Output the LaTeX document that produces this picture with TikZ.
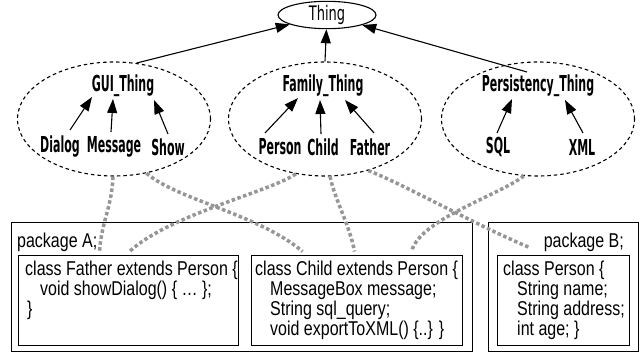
\documentclass[tikz,border=0pt]{standalone}
\usepackage{fontspec}
\setmainfont{Liberation Sans}
\newfontfamily\topfont[FakeStretch=0.5]{DejaVu Sans}
\newfontfamily\thingfont[FakeStretch=0.65]{DejaVu Sans}
\newfontfamily\codefont[FakeStretch=0.8]{Liberation Sans}
\usetikzlibrary{arrows.meta,shapes.geometric}
\definecolor{dotgray}{RGB}{150,150,150}
\begin{document}
\begin{tikzpicture}[x=1pt,y=-1pt,
  grp/.style={ellipse, draw, dash pattern=on 3.5pt off 3pt, line width=1.1pt, minimum width=193pt, minimum height=114pt, inner sep=0pt},
  lbl/.style={font=\topfont\bfseries\fontsize{22}{22}\selectfont, inner sep=1pt},
  arr/.style={-{Triangle[length=14pt,width=10pt]}, line width=1.1pt},
  dep/.style={draw=dotgray, line width=3.5pt, dash pattern=on 3.5pt off 2.5pt},
  pkg/.style={draw, line width=1pt, inner sep=0pt},
  cls/.style={draw, line width=1pt, inner sep=0pt, minimum height=90pt},
  code/.style={font=\codefont\fontsize{20}{20}\selectfont, anchor=base west, inner sep=0pt}]
\useasboundingbox (0,0) rectangle (644,355);

% top ontology
\node[draw, ellipse, minimum width=98pt, minimum height=26pt, inner sep=0pt, line width=1.1pt,
      font=\thingfont\fontsize{20}{20}\selectfont] (thing) at (327,15) {Thing};

\node[grp] (gui)  at (114,119) {};
\node[grp] (fam)  at (325,119) {};
\node[grp] (pers) at (538,119) {};

\node[lbl] (guit)  at (123,86) {GUI\_Thing};
\node[lbl] (famt)  at (323,86) {Family\_Thing};
\node[lbl] (perst) at (538,86) {Persistency\_Thing};

\node[lbl] (dialog)  at (60,147)  {Dialog};
\node[lbl] (message) at (114,147) {Message};
\node[lbl] (show)    at (168,147) {Show};
\node[lbl] (person)  at (280,147) {Person};
\node[lbl] (child)   at (323,147) {Child};
\node[lbl] (father)  at (370,147) {Father};
\node[lbl] (sql)     at (498,147) {SQL};
\node[lbl] (xml)     at (582,147) {XML};

\draw[arr] (gui.68) -- (thing);
\draw[arr] (fam.north) -- (thing);
\draw[arr] ([shift={(-11,-14)}]perst.center) -- (thing);

\draw[arr] ([shift={(10,-17)}]dialog.center)  -- ([shift={(-31,11)}]guit.center);
\draw[arr] ([shift={(-3,-15)}]message.center) -- ([shift={(-10,13)}]guit.center);
\draw[arr] ([shift={(0,-13)}]show.center)     -- ([shift={(31,14)}]guit.center);
\draw[arr] ([shift={(-15,-14)}]person.center) -- ([shift={(-25,12)}]famt.center);
\draw[arr] ([shift={(-2,-13)}]child.center)   -- ([shift={(-3,14)}]famt.center);
\draw[arr] ([shift={(4,-14)}]father.center)   -- ([shift={(22,14)}]famt.center);
\draw[arr] ([shift={(-1,-14)}]sql.center)     -- ([shift={(-26,13)}]perst.center);
\draw[arr] ([shift={(1,-14)}]xml.center)      -- ([shift={(27,14)}]perst.center);

% packages
\node[pkg, minimum width=461pt, minimum height=129pt] (pkga) at (241.5,286.5) {};
\node[pkg, minimum width=150pt, minimum height=129pt] (pkgb) at (563,286.5) {};
\node[cls, minimum width=220pt] (fbox) at (128,300) {};
\node[cls, minimum width=211pt] (cbox) at (356.5,300) {};
\node[cls, minimum width=132pt] (pbox) at (563,300) {};

\node[code] (pkgalbl) at (17,247) {package A;};
\node[code, anchor=base east] (pkgblbl) at (624,247) {package B;};

\node[code] (fa1) at (25,275) {class Father extends Person \{};
\node[code] (fa2) at (40,295) {void showDialog() \{ … \};};
\node[code] (fa3) at (27,315) {\}};

\node[code] (ch1) at (255,275) {class Child extends Person \{};
\node[code] (ch2) at (270,295) {MessageBox message;};
\node[code] (ch3) at (270,315) {String sql\_query;};
\node[code] (ch4) at (270,335) {void exportToXML() \{..\} \}};

\node[code] (pe1) at (503,275) {class Person \{};
\node[code] (pe2) at (517,295) {String name;};
\node[code] (pe3) at (517,315) {String address;};
\node[code] (pe4) at (517,335) {int age; \}};

% dependency lines
\draw[dep] (gui.-91) .. controls +(-1,30) and +(2,-30) .. ([shift={(82,-3)}]fbox.north west);
\draw[dep] (gui.-59) .. controls +(29,26) and +(-43,-37) .. ([shift={(52,-3)}]cbox.north west);
\draw[dep] (fam.-118) .. controls +(-26,18) and +(40,-37) .. ([shift={(112,-3)}]fbox.north west);
\draw[dep] (fam.-85) .. controls +(5,24) and +(-5,-27) .. ([shift={(104,-3)}]cbox.north west);
\draw[dep] (fam.-50) .. controls +(36,14) and +(-55,-23) .. ([shift={(33,-7)}]pbox.north west);
\draw[dep] (pers.-104) .. controls +(-24,19) and +(8,-32) .. ([shift={(161,-3)}]cbox.north west);
\end{tikzpicture}
\end{document}
